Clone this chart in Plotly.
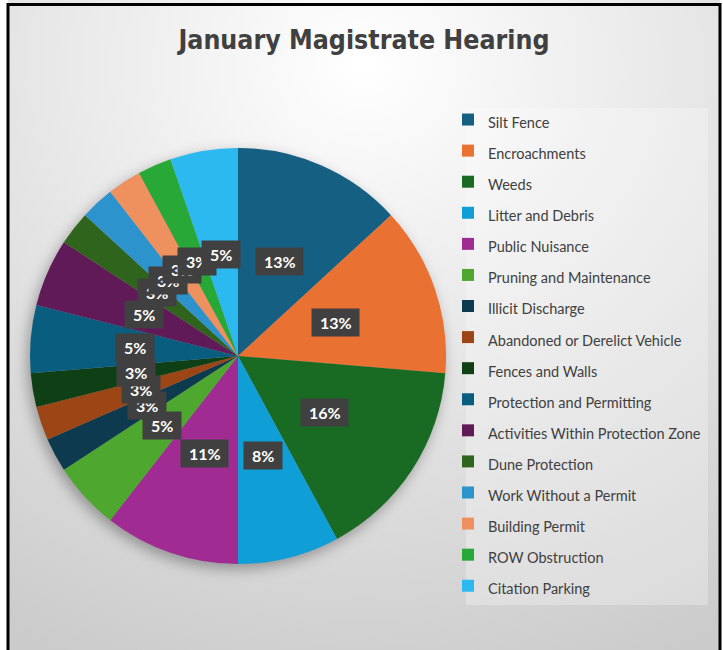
import math
import base64
import plotly.graph_objects as go

# ---------------- data ----------------
categories = [
    "Silt Fence", "Encroachments", "Weeds", "Litter and Debris", "Public Nuisance",
    "Pruning and Maintenance", "Illicit Discharge", "Abandoned or Derelict Vehicle",
    "Fences and Walls", "Protection and Permitting", "Activities Within Protection Zone",
    "Dune Protection", "Work Without a Permit", "Building Permit", "ROW Obstruction",
    "Citation Parking",
]
counts = [5, 5, 6, 3, 4, 2, 1, 1, 1, 2, 2, 1, 1, 1, 1, 2]
colors = [
    "#156082", "#E97132", "#196B24", "#0F9ED5", "#A02B93", "#4EA72E",
    "#0D3A4E", "#9C4616", "#0F4015", "#095E80", "#601A58", "#2F641C",
    "#2D93CC", "#EE915F", "#27A837", "#2CB9F0",
]
title_text = "January Magistrate Hearing"

# ---------------- geometry ----------------
W, H = 723, 650
CX, CY, R = 238, 356, 208          # pie centre (px from top-left) and radius
LABEL_R = 0.495                     # data labels sit at ~half radius

dom_x = [(CX - R) / W, (CX + R) / W]
dom_y = [1 - (CY + R) / H, 1 - (CY - R) / H]

fig = go.Figure()

legend_labels = ['<span style="font-size:14.5px">%s</span>' % c for c in categories]

fig.add_trace(go.Pie(
    labels=legend_labels,
    values=counts,
    sort=False,
    direction="clockwise",
    rotation=0,
    marker=dict(colors=colors, line=dict(width=0)),
    textinfo="none",
    domain=dict(x=dom_x, y=dom_y),
    hovertemplate="%{label}: %{value} (%{percent})<extra></extra>",
))

# ---------------- data labels ----------------
total = sum(counts)
annotations = []
cum = 0
for v in counts:
    theta = 2 * math.pi * (cum + v / 2) / total
    cum += v
    xp = CX + LABEL_R * R * math.sin(theta)
    yp = CY - LABEL_R * R * math.cos(theta)
    annotations.append(dict(
        x=xp / W, y=1 - yp / H, xref="paper", yref="paper",
        text="\u00a0%d%%\u00a0" % round(100 * v / total),
        showarrow=False,
        font=dict(family="Lato, Roboto, sans-serif", size=16, color="white", weight="bold"),
        bgcolor="#404040",
        borderpad=4,
        xanchor="center", yanchor="middle",
    ))

# ---------------- background gradient and pie shadow ----------------
FX0, FX1, FY0 = 8, 720, 4.5
bg_svg = (
    "<svg xmlns='http://www.w3.org/2000/svg' width='712' height='650' preserveAspectRatio='none'>"
    "<defs><radialGradient id='g' cx='0.5' cy='0.1' r='1'>"
    "<stop offset='0' stop-color='#ffffff'/><stop offset='1' stop-color='#cbcbcb'/>"
    "</radialGradient></defs><rect width='712' height='650' fill='url(#g)'/></svg>"
)
bg_src = "data:image/svg+xml;base64," + base64.b64encode(bg_svg.encode()).decode()

PAD = 40
S = 2 * (R + PAD)
sh_svg = (
    "<svg xmlns='http://www.w3.org/2000/svg' width='%d' height='%d'>"
    "<defs><filter id='b' x='-50%%' y='-50%%' width='200%%' height='200%%'>"
    "<feGaussianBlur stdDeviation='7'/></filter></defs>"
    "<circle cx='%d' cy='%d' r='%d' fill='black' fill-opacity='0.32' filter='url(#b)'/></svg>"
) % (S, S, S / 2 - 3, S / 2 + 5, R)
sh_src = "data:image/svg+xml;base64," + base64.b64encode(sh_svg.encode()).decode()

images = [
    dict(source=bg_src, xref="paper", yref="paper", x=FX0 / W, y=1,
         sizex=(FX1 - FX0) / W, sizey=1, xanchor="left", yanchor="top",
         sizing="stretch", layer="below"),
    dict(source=sh_src, xref="paper", yref="paper", x=(CX - R - PAD) / W,
         y=1 - (CY - R - PAD) / H, sizex=S / W, sizey=S / H,
         xanchor="left", yanchor="top", sizing="stretch", layer="below"),
]

shapes = [
    # legend panel
    dict(type="rect", xref="paper", yref="paper",
         x0=466 / W, x1=708 / W, y0=1 - 605 / H, y1=1 - 108 / H,
         fillcolor="rgba(255,255,255,0.28)", line=dict(width=0), layer="below"),
    # outer frame
    dict(type="rect", xref="paper", yref="paper",
         x0=FX0 / W, x1=FX1 / W, y0=-0.05, y1=1 - FY0 / H,
         line=dict(color="black", width=3), fillcolor="rgba(0,0,0,0)"),
]

fig.update_layout(
    width=W, height=H,
    margin=dict(l=0, r=0, t=0, b=0),
    paper_bgcolor="white",
    plot_bgcolor="rgba(0,0,0,0)",
    title=dict(
        text=title_text, x=364 / W, y=1 - 40 / H, xanchor="center", yanchor="middle",
        xref="paper", yref="container",
        font=dict(family="DejaVu Sans Condensed, Liberation Sans Narrow, Roboto, sans-serif",
                  size=26.5, color="#404040", weight="bold"),
    ),
    showlegend=True,
    legend=dict(
        x=448 / W, y=1 - 99 / H, xanchor="left", yanchor="top",
        bgcolor="rgba(0,0,0,0)", borderwidth=0,
        font=dict(family="Lato, Roboto, sans-serif", size=21.6, color="#404040"),
    ),
    annotations=annotations,
    images=images,
    shapes=shapes,
)

fig.write_html("out.html", config={"displayModeBar": False},
               post_script="document.body.style.margin='0';")
